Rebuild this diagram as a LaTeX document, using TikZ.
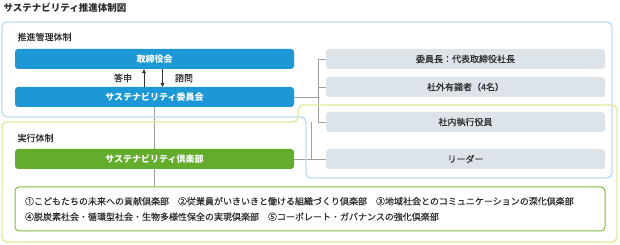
\documentclass[tikz,border=0pt]{standalone}
\usepackage{fontspec}
\setmainfont{Noto Sans CJK JP}[UprightFeatures={FakeBold=0.25}]
\usepackage{xcolor}
\usepackage{tikz}
\usetikzlibrary{arrows.meta,positioning,backgrounds}
\definecolor{sus_blue}{RGB}{27,152,213}
\definecolor{sus_green}{RGB}{100,172,44}
\definecolor{sus_gray}{RGB}{220,227,233}
\definecolor{frame_blue}{RGB}{188,221,243}
\definecolor{frame_yellow}{RGB}{226,232,156}
\definecolor{list_green}{RGB}{125,187,63}
\definecolor{text_dark}{RGB}{45,45,45}

\begin{document}
\begin{tikzpicture}[x=1pt, y=-1pt, font=\fontsize{9}{11}\selectfont, text=text_dark,
    box/.style={rounded corners=3pt, minimum width=279pt, minimum height=20pt, inner sep=0pt},
    bluebox/.style={box, fill=sus_blue, text=white, font=\fontsize{9}{11}\selectfont\bfseries},
    greenbox/.style={box, fill=sus_green, text=white, font=\fontsize{9}{11}\selectfont\bfseries},
    graybox/.style={box, fill=sus_gray},
    conn/.style={draw=gray!75, line width=0.8pt},
    reply/.style={draw=black!80, line width=0.6pt, -{Triangle[length=4pt,width=4pt]}}]
  \useasboundingbox (0,0) rectangle (620,245);

  % frames
  \draw[frame_blue, line width=1.4pt, rounded corners=5pt]
    (2,22) -- (612,22) -- (612,178) -- (306,178) -- (306,117) -- (2,117) -- cycle;
  \draw[frame_yellow, line width=1.4pt, rounded corners=5pt]
    (2,122) -- (298,122) -- (298,105) -- (617,105) -- (617,242) -- (2,242) -- cycle;

  \node[anchor=west, font=\fontsize{9.5}{11}\selectfont\bfseries] (title) at (0,8) {サステナビリティ推進体制図};
  \node[anchor=west] (mgmt) at (14,37) {推進管理体制};
  \node[anchor=west] (exec) at (14,138) {実行体制};

  % left column
  \node[bluebox] (board) at (154.5,59) {取締役会};
  \node[bluebox] (committee) at (154.5,97) {サステナビリティ委員会};
  \node[greenbox] (club) at (154.5,159) {サステナビリティ倶楽部};
  \node[draw=list_green, line width=1pt, rounded corners=4pt, fill=white,
        minimum width=590pt, minimum height=44pt, text width=570pt, align=left,
        font=\fontsize{9}{15.5}\selectfont] (clubs) at (310,209)
    {①こどもたちの未来への貢献倶楽部　②従業員がいきいきと働ける組織づくり倶楽部　③地域社会とのコミュニケーションの深化倶楽部\\
     ④脱炭素社会・循環型社会・生物多様性保全の実現倶楽部　⑤コーポレート・ガバナンスの強化倶楽部};

  % right column
  \node[graybox] (chair) at (465.5,59) {委員長：代表取締役社長};
  \node[graybox] (outside) at (465.5,87) {社外有識者（4名）};
  \node[graybox] (inexec) at (465.5,122) {社内執行役員};
  \node[graybox] (leader) at (465.5,159) {リーダー};

  % reporting arrows
  \draw[reply] ([xshift=-10.5pt]committee.north) -- ([xshift=-10.5pt]board.south);
  \draw[reply] ([xshift=8pt]board.south) -- ([xshift=8pt]committee.north);
  \node (answer) at (123,78) {答申};
  \node (consult) at (184,78) {諮問};

  \coordinate (brA) at (318,0);
  \coordinate (brB) at (311,0);
  \begin{scope}[on background layer]
    \draw[conn] (committee.south) -- (clubs.north -| committee.south);
    \draw[conn] (committee.east) -- (committee.east -| brA);
    \draw[conn] (chair.west) -- (chair.west -| brA) -- (inexec.west -| brA) -- (inexec.west);
    \draw[conn] (outside.west) -- (outside.west -| brA);
    \draw[conn] (club.east) -- (leader.west);
    \draw[conn] (inexec.west -| brB) -- (leader.west -| brB);
  \end{scope}
\end{tikzpicture}
\end{document}
